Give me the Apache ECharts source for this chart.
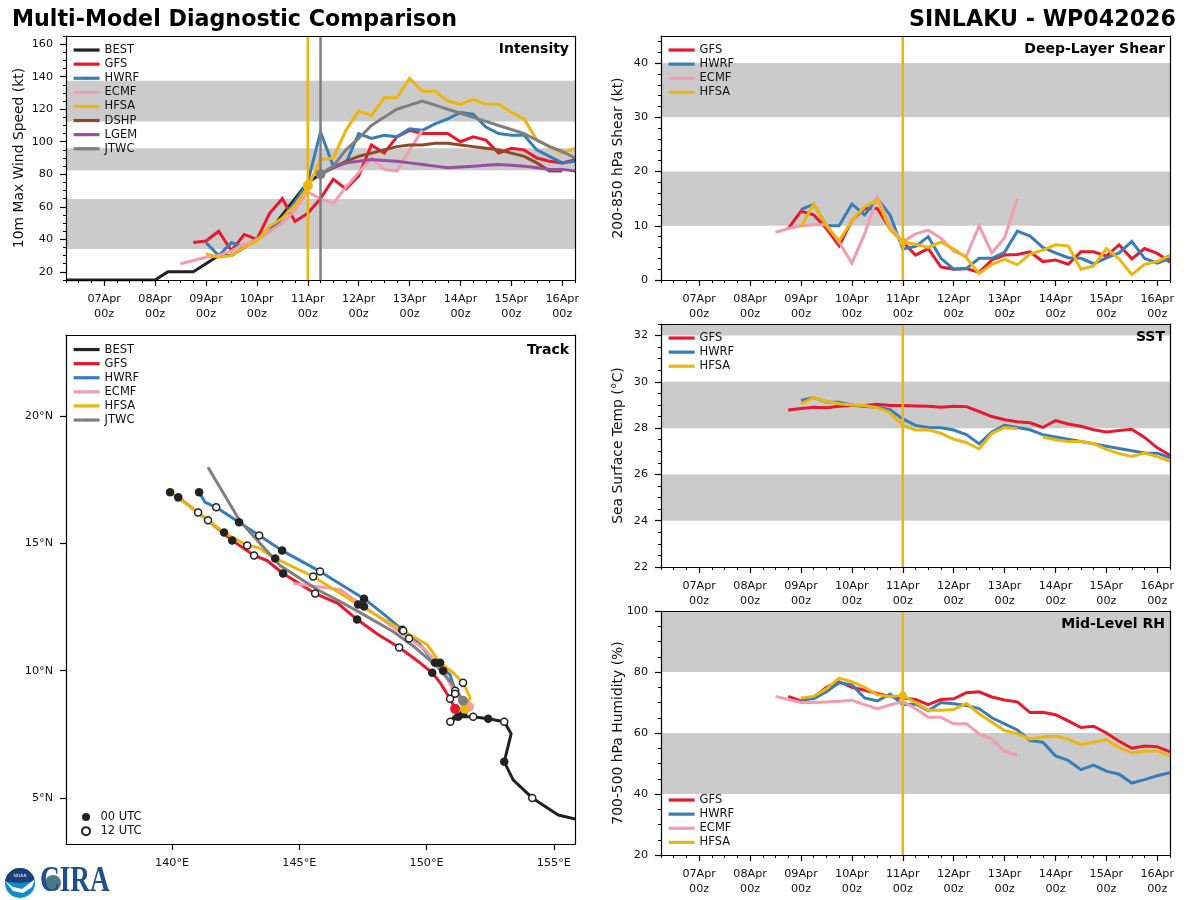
<!DOCTYPE html>
<html>
<head>
<meta charset="utf-8">
<style>html,body{margin:0;background:#fff}#chart{width:1200px;height:900px}</style>
<script src="https://cdn.jsdelivr.net/npm/echarts@6/dist/echarts.min.js"></script>
</head>
<body>
<div id="chart"></div>
<script>
// days since 07Apr 00z, model values every 6 h
var dayLabels = ['07Apr','08Apr','09Apr','10Apr','11Apr','12Apr','13Apr','14Apr','15Apr','16Apr'];
var initDay = 4, jtwcDay = 4.25;

// intensity (kt)
var bestWind = [15,15,15,15,15,15,15,15,20,20,20,25,30,30,35,40,45,55,65,75,80];
var gfsWind  = [38,39,45,33,43,40,56,65,51,56,65,77,71,79,98,93,103,107,105,105,105,100,103,101,93,96,95,90,88,87,89];
var hwrfWind = [38,30,38,35,40,45,53,63,75,106,85,87,105,102,104,103,108,107,111,114,118,117,109,105,104,104,95,91,87,88];
var ecmfWind = [25,27,29,30,33,37,40,45,50,58,69,65,62,72,81,90,83,82,95,107];
var hfsaWind = [31,29,30,35,39,48,53,61,72,89,90,107,119,116,127,127,139,131,131,125,123,126,123,123,118,114,101,97,93,96];
var dshpWind = [80,84,88,91,93,95,97,98,98,99,99,98,97,96,95,93,91,87,82,82];
var lgemWind = [80,84,87,88,89,88.5,88,87,86,85,84,84.5,85,85.5,86,85.5,85,84,83,83,82];
var jtwcWind = [80,85,95,102,110,115,120,122.5,125,122.5,120,117.5,115,112.5,110,107.5,105,101,97,94,90];

// shear (kt)
var gfsShear  = [9.5,12.7,12,9.5,6.3,11,13.2,13.2,9.5,7,4.6,5.8,2.4,2,2.1,1.4,3.7,4.6,4.7,5.2,3.4,3.7,2.9,5.2,5.2,4.4,6.5,3.9,5.8,4.9,3.3];
var hwrfShear = [13,14,10,10,14,12,15,12,5.7,6.2,8,4,2,2.1,4,4,5.1,9,8.1,6,5,4.1,4,3,4.1,5,7.1,4,3.1,4];
var ecmfShear = [8.8,9.5,10,10.2,10.2,7,3.1,8.5,15.3,10,7,8.5,9.2,7.7,5.3,4.4,10,5,7.8,15];
var hfsaShear = [9.8,14,10,7.2,11,13.5,14.8,9.3,7,6.6,6,7,5.7,4.1,1.2,2.9,3.8,2.8,4.8,5.5,6.5,6.3,2,2.6,5.8,3.9,1,2.9,3.4,4.6];

// sst (C)
var gfsSst  = [28.78,28.85,28.9,28.88,28.95,28.98,28.98,29.03,28.98,28.98,28.96,28.95,28.9,28.95,28.93,28.72,28.5,28.36,28.28,28.23,28.03,28.33,28.18,28.08,27.93,27.83,27.9,27.95,27.6,27.15,26.83];
var hwrfSst = [29.2,29.32,29.13,29.12,29,28.93,28.9,28.8,28.4,28.12,28.03,28.02,27.92,27.72,27.32,27.83,28.12,28.03,27.93,27.72,27.62,27.52,27.42,27.33,27.22,27.12,27.02,26.93,26.92,26.72];
var hfsaSst = [29.05,29.32,29.15,29.05,29,28.98,28.88,28.67,28.12,27.92,27.93,27.78,27.52,27.38,27.1,27.77,28.03,27.97,null,27.62,27.5,27.42,27.42,27.33,27.08,26.9,26.78,26.92,26.77,26.56];

// mid-level humidity (%)
var gfsRh  = [72,70.5,71.7,75,76.8,75,74,73,72,71.5,71,69.3,71,71.2,73.2,73.5,71.8,70.8,70.2,66.7,66.8,66,64,61.8,62.2,60,57.3,55,55.7,55.5,53.8];
var hwrfRh = [71,71.2,73.5,76.5,75.8,71.5,70.5,72.8,69.3,69.5,67.3,70,69.6,69,68,65,63,61,57.5,57,52.5,51,48,49.5,47.5,46.5,43.6,44.7,46,47];
var ecmfRh = [72,71,70,70,70.2,70.4,70.7,69.3,68,69.2,70.3,68,65.2,65.2,63,63,59.7,58,54,52.7];
var hfsaRh = [71.5,72,74.5,78,76.8,75,72.5,72,72.3,70,67.5,67.5,67.7,69.7,66.3,63.5,60.8,59.8,58,58.7,59,58,56.2,57,57.8,55.2,53.5,54,54.2,52.3];

// tracks: lon, lat, synoptic hour of the point (0, 12 or null)
var bestLon = [155.83,155.17,154.15,153.40,153.05,153.32,153.05,152.42,151.83,151.24,150.93,151.12,151.44,151.71];
var bestLat = [4.17,4.33,5.0,5.71,6.42,7.52,7.99,8.11,8.19,8.19,7.99,8.23,8.31,8.54];
var bestHour = [null,null,12,null,0,null,12,0,12,0,12,null,0,null];
var gfsLon = [151.12,150.92,150.53,150.22,149.74,148.92,148.09,147.27,146.52,145.62,144.36,143.73,143.22,142.36,141.41,140.24];
var gfsLat = [8.50,8.90,9.53,9.92,10.31,10.91,11.42,12.01,12.64,13.03,13.82,14.33,14.53,15.12,15.91,16.81];
var gfsHour = [null,12,null,0,null,12,null,0,null,12,0,null,12,0,12,0];
var hwrfLon = [151.38,151.12,150.92,150.33,149.74,149.04,148.29,147.54,145.81,144.32,143.42,142.63,141.73,141.30,141.06];
var hwrfLat = [8.78,9.21,9.84,10.31,11.02,11.61,12.24,12.83,13.90,14.72,15.31,15.83,16.42,16.61,17.01];
var hwrfHour = [null,12,null,0,null,12,null,0,12,0,12,0,12,null,0];
var ecmfLon = [151.67,151.12,150.65,149.94,149.31,147.54,146.60,144.75];
var ecmfLat = [8.58,9.09,10.0,10.83,11.26,12.52,13.19,13.43];
var ecmfHour = [null,12,0,null,12,0,null,null];
var hfsaLon = [151.51,151.71,151.43,151.04,150.53,150.02,149.08,147.31,145.54,144.05,143.38,142.95,142.04,141.02,139.92];
var hfsaLat = [8.50,8.94,9.53,9.92,10.31,11.02,11.57,12.60,13.70,14.41,14.84,14.92,15.43,16.22,17.01];
var hfsaHour = [null,null,12,null,0,null,12,0,12,0,null,12,0,12,0];
var jtwcLon = [151.43,151.04,150.41,149.55,148.68,147.39,146.60,145.70,144.24,142.67,141.41];
var jtwcLat = [8.82,9.45,10.16,10.91,11.54,12.28,12.72,13.19,14.13,15.87,17.99];

var windTicks = [20,40,60,80,100,120,140,160];
var shearTicks = [0,10,20,30,40];
var sstTicks = [22,24,26,28,30,32];
var rhTicks = [20,40,60,80,100];
var lonTicks = [140,145,150,155];
var latTicks = [5,10,15,20];

var windBands = [[34,64.8],[82.5,96],[112.5,137.5]];
var shearBands = [[10,20],[30,40]];
var sstBands = [[24,26],[28,30],[32,34]];
var rhBands = [[40,60],[80,100]];

var colors = {BEST:'#222222',GFS:'#e8192c',HWRF:'#377eb8',ECMF:'#f29cb0',HFSA:'#edb60f',DSHP:'#8c4a26',LGEM:'#984ea3',JTWC:'#7f7f7f'};
var fontName = 'DejaVu Sans';
var tickColor = '#111';

var grid = [], xAxis = [], yAxis = [], series = [], legend = [], title = [];

function stepTicks(from, to, step, skip) {
    var out = [];
    for (var v = from; v <= to + 1e-6; v += step) {
        if (skip.indexOf(+v.toFixed(3)) < 0) out.push(+v.toFixed(3));
    }
    return out;
}

function frameAxis(gi, pos) {
    return {type:'value', gridIndex:gi, position:pos, min:0, max:1, z:10, axisLine:{show:true, onZero:false, lineStyle:{color:'#000',width:1.2}},
        axisTick:{show:false}, axisLabel:{show:false}, splitLine:{show:false}};
}

// adds grid + axes; returns index of the data axes
function addPanel(box, xr, yr, xTicks, xMinor, yTicks, yMinor, xFmt, yFmt, yName, panelTitle, titleTop) {
    var gi = grid.length;
    grid.push({left:box[0], top:box[1], width:box[2], height:box[3]});
    var ax = xAxis.length, ay = yAxis.length;
    var axisCommon = {type:'value', gridIndex:gi, z:10, splitLine:{show:false}};
    // data x axis, carries the short ticks
    xAxis.push(Object.assign({}, axisCommon, {position:'bottom', min:xr[0], max:xr[1],
        axisLine:{show:true, onZero:false, lineStyle:{color:'#000',width:1.2}},
        axisTick:{show:xMinor.length>0, length:3, lineStyle:{color:'#000',width:1}, customValues:xMinor},
        axisLabel:{show:false, customValues:xMinor}}));
    xAxis.push(Object.assign({}, axisCommon, {position:'bottom', min:xr[0], max:xr[1],
        axisLine:{show:false, onZero:false},
        axisTick:{show:true, length:6, lineStyle:{color:'#000',width:1.2}, customValues:xTicks},
        axisLabel:{show:true, customValues:xTicks, formatter:xFmt, color:tickColor, fontFamily:fontName, fontSize:11.2, lineHeight:15.4, margin:11, hideOverlap:false, showMinLabel:true, showMaxLabel:true}}));
    xAxis.push(frameAxis(gi,'top'));
    yAxis.push(Object.assign({}, axisCommon, {position:'left', min:yr[0], max:yr[1],
        name:yName, nameLocation:'middle', nameMoveOverlap:false, nameGap:box[0]===66?40:36, nameTextStyle:{fontFamily:fontName, fontSize:13.9, color:tickColor},
        axisLine:{show:true, onZero:false, lineStyle:{color:'#000',width:1.2}},
        axisTick:{show:true, length:6, lineStyle:{color:'#000',width:1.2}, customValues:yTicks},
        axisLabel:{show:true, customValues:yTicks, formatter:yFmt, color:tickColor, fontFamily:fontName, fontSize:11.2, margin:13, padding:[4,0,0,0], hideOverlap:false, showMinLabel:true, showMaxLabel:true}}));
    yAxis.push(Object.assign({}, axisCommon, {position:'left', min:yr[0], max:yr[1],
        axisLine:{show:false, onZero:false},
        axisTick:{show:yMinor.length>0, length:3, lineStyle:{color:'#000',width:1}, customValues:yMinor},
        axisLabel:{show:false, customValues:yMinor}}));
    yAxis.push(frameAxis(gi,'right'));
    title.push({text:panelTitle, right:1200-box[0]-box[2]+(box[0]===66?6:5), top:titleTop, padding:0,
        textStyle:{fontFamily:fontName, fontSize:14, fontWeight:'bold', color:'#000'}});
    return {x:ax, y:ay, box:box, xr:xr, yr:yr};
}

function addBands(p, bands) {
    series.push({type:'line', xAxisIndex:p.x, yAxisIndex:p.y, data:[], z:1, silent:true, symbol:'none',
        markArea:{silent:true, itemStyle:{color:'#cbcbcb'}, data:bands.map(function(b){
            return [{xAxis:p.xr[0], yAxis:b[0]},{xAxis:p.xr[1], yAxis:Math.min(b[1],p.yr[1])}];
        })}});
}

function addModel(p, name, startDay, values) {
    series.push({type:'line', name:name, xAxisIndex:p.x, yAxisIndex:p.y, symbol:'none', color:colors[name], z:3,
        lineStyle:{width:3, color:colors[name], cap:'butt', join:'miter'}, connectNulls:false, silent:true,
        data:values.map(function(v,i){ return [startDay + i*0.25, v]; })});
}

function addVLine(p, day, color) {
    series.push({type:'line', xAxisIndex:p.x, yAxisIndex:p.y, symbol:'none', color:color, z:4, silent:true,
        lineStyle:{width:2.5, color:color}, data:[[day,p.yr[0]],[day,p.yr[1]]]});
}

function addDot(p, name, day, value, size) {
    series.push({type:'scatter', xAxisIndex:p.x, yAxisIndex:p.y, symbolSize:size, z:5, silent:true,
        itemStyle:{color:colors[name], opacity:1}, data:[[day,value]]});
}

function addTrack(p, name, lons, lats, hours) {
    series.push({type:'line', name:name, xAxisIndex:p.x, yAxisIndex:p.y, symbol:'none', color:colors[name], z:3, silent:true,
        lineStyle:{width:3, color:colors[name]}, data:lons.map(function(v,i){ return [v,lats[i]]; })});
    if (!hours) return;
    var at = function(h){
        var out = [];
        lons.forEach(function(v,i){ if (hours[i] === h) out.push([v,lats[i]]); });
        return out;
    };
    series.push({type:'scatter', xAxisIndex:p.x, yAxisIndex:p.y, symbolSize:8.5, z:3, silent:true,
        itemStyle:{color:'#222', opacity:1}, data:at(0)});
    series.push({type:'scatter', xAxisIndex:p.x, yAxisIndex:p.y, symbolSize:7, z:3, silent:true,
        itemStyle:{color:'#fff', borderColor:'#222', borderWidth:1.5, opacity:1}, data:at(12)});
}

function addLegend(names, left, top) {
    legend.push({orient:'vertical', left:left, top:top, padding:0, itemWidth:26, itemHeight:3, itemGap:0, selectedMode:false,
        lineStyle:{width:3.2}, data:names,
        textStyle:{fontFamily:fontName, fontSize:11.5, color:tickColor, lineHeight:14.1, height:14.1, padding:0}});
}

var dayXTicks = stepTicks(0,9,1,[]);
var dayXMinor = stepTicks(-0.75,9.25,0.25,dayXTicks);
var xr = [-0.75,9.25];
function dayFmt(v){ return dayLabels[Math.round(v)] + '\n00z'; }
function plainFmt(v){ return String(v); }

// intensity
var pWind = addPanel([66,36,509,244], xr, [15,165], dayXTicks, dayXMinor, windTicks, stepTicks(15,165,5,windTicks), dayFmt, plainFmt, '10m Max Wind Speed (kt)', 'Intensity', 42);
addBands(pWind, windBands);
addModel(pWind,'BEST',-0.75,bestWind);
addModel(pWind,'GFS',1.75,gfsWind);
addModel(pWind,'HWRF',2,hwrfWind);
addModel(pWind,'ECMF',1.5,ecmfWind);
addModel(pWind,'HFSA',2,hfsaWind);
addModel(pWind,'DSHP',4.25,dshpWind);
addModel(pWind,'LGEM',4.25,lgemWind);
addModel(pWind,'JTWC',4.25,jtwcWind);
addVLine(pWind,initDay,colors.HFSA);
addVLine(pWind,jtwcDay,colors.JTWC);
addDot(pWind,'HFSA',initDay,73,10);
addDot(pWind,'JTWC',jtwcDay,80,10);
addLegend(['BEST','GFS','HWRF','ECMF','HFSA','DSHP','LGEM','JTWC'],72,43);

// track
var pTrack = addPanel([66,335,509,509], [135.83,155.83], [3.19,23.19], lonTicks, [], latTicks, [],
    function(v){ return v + '°E'; }, function(v){ return v + '°N'; }, '', 'Track', 343);
addTrack(pTrack,'BEST',bestLon,bestLat,bestHour);
addTrack(pTrack,'GFS',gfsLon,gfsLat,gfsHour);
addTrack(pTrack,'HWRF',hwrfLon,hwrfLat,hwrfHour);
addTrack(pTrack,'ECMF',ecmfLon,ecmfLat,ecmfHour);
addTrack(pTrack,'HFSA',hfsaLon,hfsaLat,hfsaHour);
addTrack(pTrack,'JTWC',jtwcLon,jtwcLat,null);
addDot(pTrack,'ECMF',ecmfLon[0],ecmfLat[0],10);
addDot(pTrack,'GFS',gfsLon[0],gfsLat[0],10);
addDot(pTrack,'HFSA',hfsaLon[0],hfsaLat[0],10);
addDot(pTrack,'JTWC',jtwcLon[0],jtwcLat[0],10);
addLegend(['BEST','GFS','HWRF','ECMF','HFSA','JTWC'],72,342.5);
// 00/12 UTC key, empty series so the legend stays library-drawn
series.push({type:'scatter', name:'00 UTC', xAxisIndex:pTrack.x, yAxisIndex:pTrack.y, data:[], itemStyle:{color:'#222', opacity:1}});
series.push({type:'scatter', name:'12 UTC', xAxisIndex:pTrack.x, yAxisIndex:pTrack.y, data:[], itemStyle:{color:'#fff', borderColor:'#222', borderWidth:1.5, opacity:1}});
legend.push({orient:'vertical', left:81, top:810, padding:0, itemWidth:19, itemHeight:8, itemGap:0, selectedMode:false, icon:'circle',
    data:['00 UTC','12 UTC'], textStyle:{fontFamily:fontName, fontSize:11.5, color:tickColor, lineHeight:14.1, height:14.1, padding:0}});

// shear
var pShear = addPanel([661,36,509,244], xr, [0,45], dayXTicks, dayXMinor, shearTicks, stepTicks(0,44,2,shearTicks), dayFmt, plainFmt, '200-850 hPa Shear (kt)', 'Deep-Layer Shear', 42);
addBands(pShear, shearBands);
addModel(pShear,'GFS',1.75,gfsShear);
addModel(pShear,'HWRF',2,hwrfShear);
addModel(pShear,'ECMF',1.5,ecmfShear);
addModel(pShear,'HFSA',2,hfsaShear);
addVLine(pShear,initDay,colors.HFSA);
addDot(pShear,'HFSA',initDay,7,8);
addLegend(['GFS','HWRF','ECMF','HFSA'],667,43);

// sst
var pSst = addPanel([661,324,509,243], xr, [22,32.5], dayXTicks, dayXMinor, sstTicks, stepTicks(22,32.5,0.5,sstTicks), dayFmt, plainFmt, 'Sea Surface Temp (°C)', 'SST', 330);
addBands(pSst, sstBands);
addModel(pSst,'GFS',1.75,gfsSst);
addModel(pSst,'HWRF',2,hwrfSst);
addModel(pSst,'HFSA',2,hfsaSst);
addVLine(pSst,initDay,colors.HFSA);
addLegend(['GFS','HWRF','HFSA'],667,331);

// rh
var pRh = addPanel([661,611,509,244], xr, [20,100], dayXTicks, dayXMinor, rhTicks, stepTicks(20,100,5,rhTicks), dayFmt, plainFmt, '700-500 hPa Humidity (%)', 'Mid-Level RH', 617);
addBands(pRh, rhBands);
addModel(pRh,'GFS',1.75,gfsRh);
addModel(pRh,'HWRF',2,hwrfRh);
addModel(pRh,'ECMF',1.5,ecmfRh);
addModel(pRh,'HFSA',2,hfsaRh);
addVLine(pRh,initDay,colors.HFSA);
addDot(pRh,'HFSA',initDay,72.3,8);
addLegend(['GFS','HWRF','ECMF','HFSA'],667,793);

title.push({text:'Multi-Model Diagnostic Comparison', left:12, top:9, padding:0, textStyle:{fontFamily:fontName, fontSize:22.2, fontWeight:'bold', color:'#000'}});
title.push({text:'SINLAKU - WP042026', right:24, top:9, padding:0, textStyle:{fontFamily:fontName, fontSize:22.2, fontWeight:'bold', color:'#000'}});

// agency marks, rough
var logo = [
    {type:'circle', shape:{cx:20,cy:883,r:15}, style:{fill:'#0b8ccf'}},
    {type:'sector', shape:{cx:20,cy:883,r:15,startAngle:Math.PI*1.03,endAngle:Math.PI*1.97}, style:{fill:'#1b3f7a'}},
    {type:'polygon', shape:{points:[[5,881],[13,887],[22,889],[35,879],[32,887],[23,893],[13,891]]}, style:{fill:'#fff'}},
    {type:'text', style:{text:'NOAA', x:20, y:876, align:'center', verticalAlign:'middle', fontFamily:fontName, fontSize:4.5, fill:'#fff'}},
    {type:'circle', shape:{cx:53,cy:883,r:8}, style:{fill:'#4a7a85'}},
    {type:'text', x:40, y:864, scaleX:0.78, style:{text:'CIRA', fontFamily:'Liberation Serif', fontWeight:'bold', fontSize:35, fill:'#1f4f8b'}}
];

var chart = echarts.init(document.getElementById('chart'), null, {renderer:'canvas'});
chart.setOption({animation:false, backgroundColor:'#fff', title:title, grid:grid, xAxis:xAxis, yAxis:yAxis, legend:legend, series:series, graphic:logo, tooltip:{show:false}});
</script>
</body>
</html>
